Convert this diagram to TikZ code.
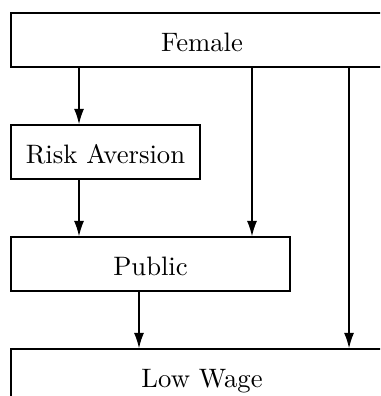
\documentclass[tikz,border=0pt]{standalone}
\usetikzlibrary{arrows.meta}

\begin{document}
\begin{tikzpicture}[
  box/.style={draw, line width=0.55pt, minimum height=0.74cm, inner sep=0pt,
    text height=9pt, text depth=0pt, font=\fontsize{10.4pt}{12pt}\selectfont},
  arr/.style={line width=0.55pt, -{Latex[length=6pt, width=3.9pt]}}
]
\useasboundingbox (0,0) rectangle (5.209,5.428);
\clip (0,0) rectangle (5.209,5.428);
\node[box, minimum width=5.236cm] (female) at (2.769,4.880) {Female};
\node[box, minimum width=2.590cm] (risk) at (1.446,3.345) {Risk Aversion};
\node[box, minimum width=3.824cm] (public) at (2.063,1.809) {Public};
\node[box, minimum width=5.236cm] (lowwage) at (2.769,0.274) {Low Wage};
% arrow columns
\coordinate (c1) at (1.083,0);
\coordinate (c2) at (1.905,0);
\coordinate (c3) at (3.454,0);
\coordinate (c4) at (4.784,0);
\draw[arr] (c1 |- female.south) -- (c1 |- risk.north);
\draw[arr] (c1 |- risk.south) -- (c1 |- public.north);
\draw[arr] (c3 |- female.south) -- (c3 |- public.north);
\draw[arr] (c2 |- public.south) -- (c2 |- lowwage.north);
\draw[arr] (c4 |- female.south) -- (c4 |- lowwage.north);
\end{tikzpicture}
\end{document}
